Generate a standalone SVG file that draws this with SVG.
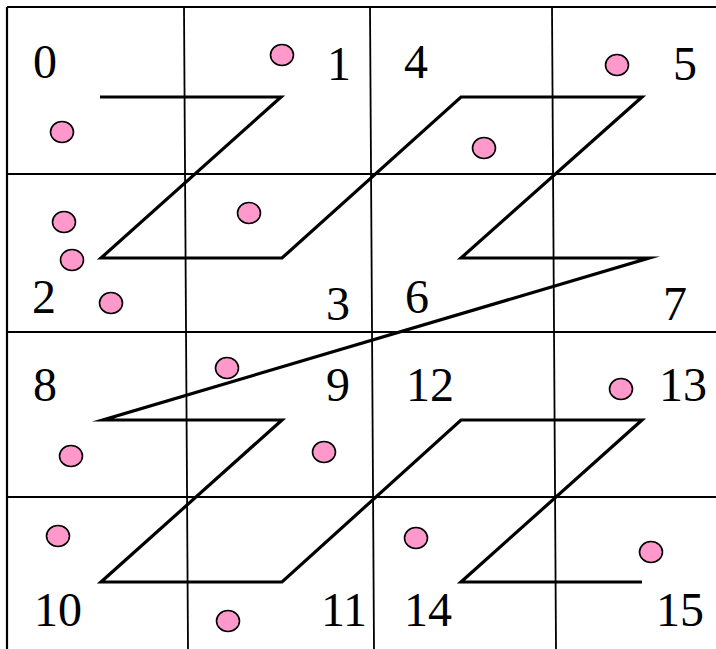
<svg xmlns="http://www.w3.org/2000/svg" width="716" height="649" viewBox="0 0 716 649">
<style>
.frame{stroke:#000;stroke-width:2.2;fill:none}
.grid{stroke:#000;stroke-width:1.8;fill:none}
.zpath{stroke:#000;stroke-width:3.2;fill:none;stroke-linejoin:miter;stroke-miterlimit:20}
.pt{fill:#FF99CC;stroke:#000;stroke-width:1.6}
</style>
<rect width="716" height="649" fill="#fff"/>
<g id="grid">
<line class="frame" x1="7" y1="7" x2="716" y2="7"/>
<line class="frame" x1="7" y1="7" x2="7" y2="649"/>
<line class="grid" x1="7" y1="174" x2="716" y2="174"/>
<line class="grid" x1="7" y1="332" x2="716" y2="332"/>
<line class="grid" x1="7" y1="497" x2="716" y2="497"/>
<line class="grid" x1="184" y1="7" x2="188" y2="649"/>
<line class="grid" x1="370" y1="7" x2="374" y2="649"/>
<line class="grid" x1="552" y1="7" x2="556" y2="649"/>
</g>
<g id="connectors">
<polyline class="zpath" points="100,97 281,97 101,258 282,258 461,97 642,97 461,258 649,258 103,420 282,420 101,582 282,582 461,420 642,420 461,582 642,582"/>
</g>
<g id="labels" font-family="'Liberation Serif', 'Times New Roman', 'DejaVu Serif', serif" font-size="48" fill="#000" text-anchor="middle">
<g id="cell0"><text x="45" y="78">0</text></g>
<g id="cell1"><text x="339" y="80">1</text></g>
<g id="cell2"><text x="44" y="313">2</text></g>
<g id="cell3"><text x="338" y="320">3</text></g>
<g id="cell4"><text x="416" y="78">4</text></g>
<g id="cell5"><text x="685" y="80">5</text></g>
<g id="cell6"><text x="417" y="313">6</text></g>
<g id="cell7"><text x="675" y="320">7</text></g>
<g id="cell8"><text x="45" y="401">8</text></g>
<g id="cell9"><text x="338" y="401">9</text></g>
<g id="cell12"><text x="430" y="401">12</text></g>
<g id="cell13"><text x="683" y="401">13</text></g>
<g id="cell10"><text x="58" y="626">10</text></g>
<g id="cell11"><text x="344" y="626">11</text></g>
<g id="cell14"><text x="428" y="626">14</text></g>
<g id="cell15"><text x="680" y="626">15</text></g>
</g>
<g id="points">
<ellipse class="pt" cx="282" cy="55" rx="11.5" ry="10.5"/>
<ellipse class="pt" cx="62" cy="132" rx="11.5" ry="10.5"/>
<ellipse class="pt" cx="64" cy="222" rx="11.5" ry="10.5"/>
<ellipse class="pt" cx="72" cy="260" rx="11.5" ry="10.5"/>
<ellipse class="pt" cx="111" cy="303" rx="11.5" ry="10.5"/>
<ellipse class="pt" cx="249" cy="213" rx="11.5" ry="10.5"/>
<ellipse class="pt" cx="617" cy="65" rx="11.5" ry="10.5"/>
<ellipse class="pt" cx="484" cy="148" rx="11.5" ry="10.5"/>
<ellipse class="pt" cx="227" cy="368" rx="11.5" ry="10.5"/>
<ellipse class="pt" cx="71" cy="456" rx="11.5" ry="10.5"/>
<ellipse class="pt" cx="324" cy="452" rx="11.5" ry="10.5"/>
<ellipse class="pt" cx="58" cy="536" rx="11.5" ry="10.5"/>
<ellipse class="pt" cx="228" cy="621" rx="11.5" ry="10.5"/>
<ellipse class="pt" cx="621" cy="389" rx="11.5" ry="10.5"/>
<ellipse class="pt" cx="416" cy="538" rx="11.5" ry="10.5"/>
<ellipse class="pt" cx="651" cy="552" rx="11.5" ry="10.5"/>
</g>
</svg>
